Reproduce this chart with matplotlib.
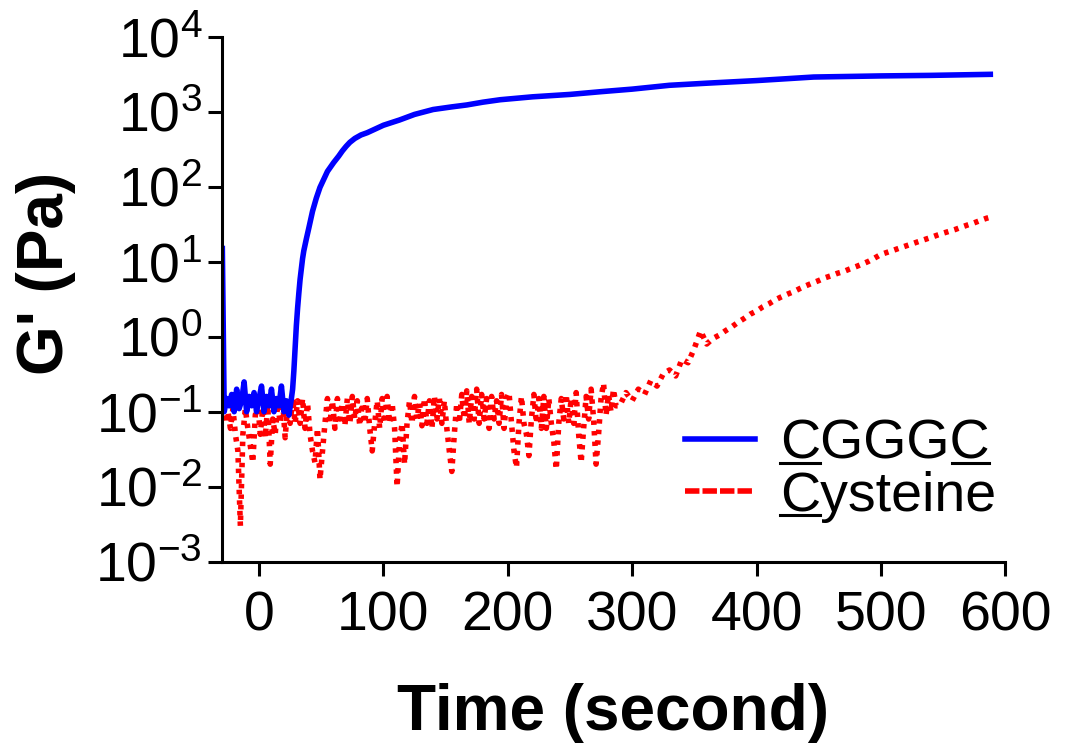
import numpy as np
import matplotlib.pyplot as plt
from matplotlib import ticker
from matplotlib.lines import Line2D

plt.rcParams['font.family'] = ['Liberation Sans', 'DejaVu Sans']
plt.rcParams['axes.unicode_minus'] = False

# CGGGC gel: time (s) and G' (Pa)
cggc_time = [-29.5, -28, -26, -24, -22, -20, -18, -16, -14, -12, -10, -8, -6, -4, -2,
             0, 2, 4, 6, 8, 10, 12, 14, 16, 18, 20, 22, 24, 26,
             27, 28, 29, 30, 31, 32, 33, 34, 35, 36, 38, 40, 43, 46, 49, 55, 60, 64, 67, 70, 73,
             77, 82, 87, 100, 113, 125, 140, 155, 167, 180, 194, 220, 250, 275, 300, 330, 360,
             400, 446, 500, 540, 588]
cggc_gp = [15, 0.1, 0.15, 0.12, 0.17, 0.1, 0.2, 0.11, 0.14, 0.25, 0.1, 0.16, 0.12, 0.18, 0.1,
           0.15, 0.22, 0.1, 0.16, 0.12, 0.2, 0.1, 0.15, 0.12, 0.22, 0.1, 0.14, 0.09, 0.15,
           0.2, 0.35, 0.7, 1.4, 2.4, 3.8, 5.8, 8, 11, 14, 20, 28, 47, 70, 98, 160, 210, 255, 300, 345, 390,
           440, 490, 525, 660, 776, 920, 1070, 1160, 1230, 1340, 1445, 1580, 1700, 1850, 2000, 2250,
           2400, 2600, 2900, 3000, 3050, 3150]

# Cysteine: noisy baseline sampled every 2 s, then the slow rise every 5 s
cys_noise_time = np.arange(-29, 289, 2)
cys_noise_gp = [0.12, 0.07, 0.1, 0.06, 0.11, 0.05, 0.03, 0.003, 0.05, 0.11,
                0.06, 0.035, 0.021, 0.09, 0.13, 0.05, 0.11, 0.045, 0.12, 0.02,
                0.08, 0.05, 0.13, 0.07, 0.14, 0.045, 0.12, 0.07, 0.15, 0.07,
                0.14, 0.07, 0.15, 0.06, 0.13, 0.05, 0.03, 0.021, 0.06, 0.0125,
                0.03, 0.07, 0.15, 0.07, 0.14, 0.06, 0.15, 0.08, 0.13, 0.065,
                0.15, 0.07, 0.16, 0.08, 0.14, 0.065, 0.13, 0.07, 0.15, 0.06,
                0.03, 0.07, 0.14, 0.06, 0.15, 0.07, 0.16, 0.07, 0.13, 0.06,
                0.01, 0.04, 0.07, 0.02, 0.07, 0.14, 0.07, 0.16, 0.08, 0.13,
                0.065, 0.15, 0.07, 0.14, 0.06, 0.16, 0.08, 0.15, 0.07, 0.14,
                0.06, 0.03, 0.016, 0.05, 0.13, 0.07, 0.17, 0.08, 0.19, 0.07,
                0.16, 0.08, 0.2, 0.07, 0.17, 0.08, 0.15, 0.06, 0.16, 0.08,
                0.14, 0.07, 0.17, 0.06, 0.15, 0.18, 0.07, 0.03, 0.018, 0.07,
                0.16, 0.07, 0.05, 0.026, 0.08, 0.17, 0.07, 0.15, 0.06, 0.16,
                0.06, 0.15, 0.07, 0.04, 0.017, 0.07, 0.15, 0.08, 0.17, 0.07,
                0.15, 0.07, 0.18, 0.05, 0.021, 0.06, 0.16, 0.08, 0.2, 0.08,
                0.02, 0.05, 0.15, 0.24, 0.09, 0.17, 0.1, 0.2, 0.12]
cys_rise_time = np.arange(290, 591, 5)
cys_rise_gp = [0.12, 0.18, 0.14, 0.2, 0.17, 0.26, 0.22, 0.32, 0.36, 0.3,
               0.5, 0.45, 0.7, 1.2, 0.8, 0.95, 1.05, 1.2, 1.35, 1.55,
               1.75, 2.0, 2.2, 2.5, 2.75, 3.1, 3.4, 3.7, 4.0, 4.4,
               4.8, 5.2, 5.6, 6.1, 6.5, 7.0, 7.4, 8.0, 8.6, 9.3,
               10.1, 11.2, 12.5, 13.3, 14.2, 15.2, 16.2, 17.3, 18.5, 19.7,
               21, 22.5, 24, 25.5, 27, 29, 31, 33, 35.5, 38, 40]

x_ticks = [0, 100, 200, 300, 400, 500, 600]
labels = ['CGGGC', 'Cysteine']

cys_time = np.concatenate([cys_noise_time, cys_rise_time])
cys_gp = np.concatenate([cys_noise_gp, cys_rise_gp])

fig = plt.figure(figsize=(10.66, 7.49), dpi=100)
ax = fig.add_axes([0.208, 0.250, 0.735, 0.701])

ax.plot(cys_time, cys_gp, color='#ff0000', lw=4, dashes=(0.8, 1.1))
ax.plot(cggc_time, cggc_gp, color='#0000ff', lw=4)

ax.set_yscale('log')
ax.set_ylim(1e-3, 1e4)
ax.set_xlim(-30, 600)
ax.set_xticks(x_ticks)
ax.yaxis.set_major_locator(ticker.LogLocator(base=10, numticks=20))
ax.yaxis.set_minor_locator(ticker.NullLocator())

for s in ('top', 'right'):
    ax.spines[s].set_visible(False)
for s in ('left', 'bottom'):
    ax.spines[s].set_linewidth(2.2)
ax.tick_params(axis='both', direction='out', length=10, width=2.2, labelsize=40)
ax.tick_params(axis='x', pad=11)
ax.tick_params(axis='y', pad=4)

ax.set_xlabel('Time (second)', fontsize=46, fontweight='bold')
ax.set_ylabel("G' (Pa)", fontsize=46, fontweight='bold')
ax.xaxis.set_label_coords(0.5, -0.23)
ax.yaxis.set_label_coords(-0.186, 0.549)

handles = [Line2D([], [], color='#0000ff', lw=4),
           Line2D([], [], color='#ff0000', lw=4, dashes=(2.6, 0.55))]
leg = ax.legend(handles, labels, loc='center left', bbox_to_anchor=(0.591, 0.173),
                frameon=False, fontsize=40, handlelength=1.26, handletextpad=0.45,
                labelspacing=0.0, borderpad=0, borderaxespad=0)

# underline the cysteine residues (C) in the legend labels
fig.canvas.draw()
renderer = fig.canvas.get_renderer()
inv = fig.transFigure.inverted()
underline = {'CGGGC': [(0, 1), (4, 5)], 'Cysteine': [(0, 1)]}
for txt in leg.get_texts():
    s = txt.get_text()
    prop = txt.get_fontproperties()
    bb = txt.get_window_extent(renderer)
    _, _, d = renderer.get_text_width_height_descent('lp', prop, ismath=False)
    y = bb.y0 + d - 4
    for a, b in underline[s]:
        x0 = bb.x0
        if a:
            x0 += renderer.get_text_width_height_descent(s[:a], prop, ismath=False)[0] + 3
        x1 = bb.x0 + renderer.get_text_width_height_descent(s[:b], prop, ismath=False)[0]
        p0, p1 = inv.transform([(x0, y), (x1, y)])
        fig.add_artist(Line2D([p0[0], p1[0]], [p0[1], p1[1]], color='black', lw=2.2,
                              transform=fig.transFigure))

fig.savefig('out.png', dpi=100)
